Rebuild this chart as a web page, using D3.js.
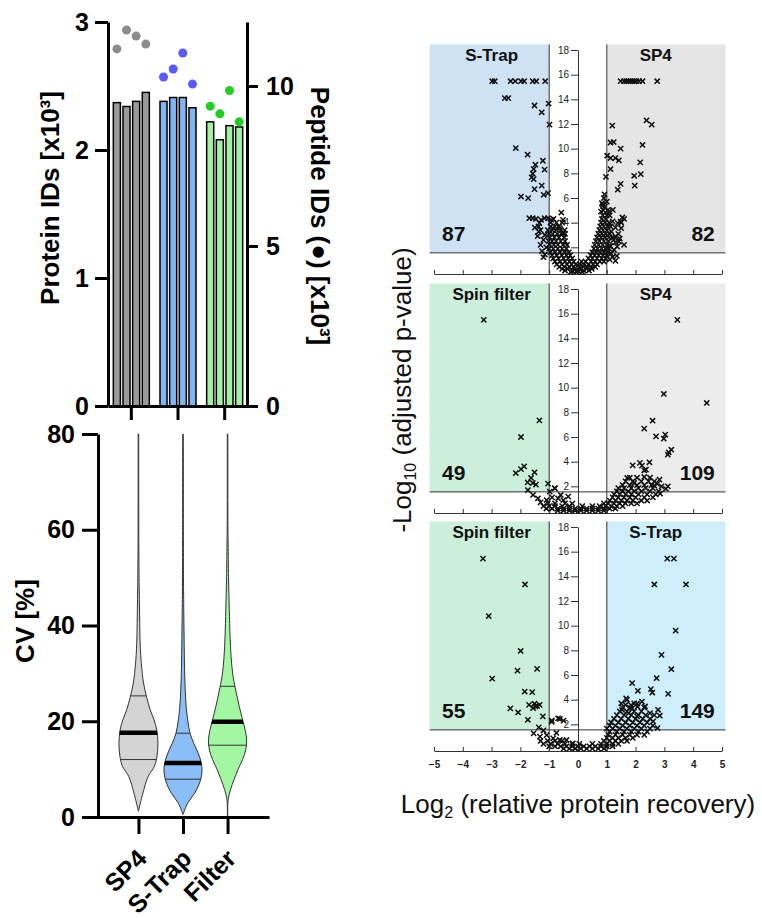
<!DOCTYPE html>
<html lang="en">
<head>
<meta charset="utf-8">
<title>Sample prep comparison</title>
<script src="https://d3js.org/d3.v7.min.js"></script>
<style>
  body { margin: 0; background: #fff; }
  svg { display: block; font-family: Arial, "Liberation Sans", sans-serif; }
</style>
</head>
<body>
<div id="chart"></div>
<script>
// ---- values ----
var groups = ["SP4", "S-Trap", "Filter"];
var proteinIDs = [[2.37, 2.34, 2.38, 2.45], [2.38, 2.41, 2.41, 2.33], [2.22, 2.08, 2.19, 2.18]];   // x10^3
var peptideIDs = [[11.16, 11.75, 11.56, 11.31], [10.28, 10.53, 11.03, 10.06], [9.37, 9.13, 9.86, 8.88]]; // x10^3
var proteinTicks = [0, 1, 2, 3];
var peptideTicks = [0, 5, 10];

// CV violins: [cv %, relative density]
var violinSP4 = [[1.2, 0], [5, 0.23], [8.5, 0.5], [10.6, 0.82], [12.7, 0.95], [15.4, 1.0], [18.2, 0.94], [20.3, 0.8],
  [22.4, 0.6], [25.2, 0.41], [28, 0.26], [32, 0.15], [36, 0.09], [42, 0.06], [49, 0.035], [57, 0.02], [80, 0.015]];
var violinSTrap = [[0.5, 0], [2.9, 0.24], [5, 0.6], [7.1, 0.85], [9.2, 0.97], [11.3, 0.94], [13.4, 0.77], [15.4, 0.55],
  [17.5, 0.36], [20.3, 0.24], [23.8, 0.15], [29.4, 0.09], [36.3, 0.06], [43, 0.04], [50, 0.025], [80, 0.015]];
var violinFilter = [[0, 0.01], [3.6, 0.03], [5.7, 0.15], [7.8, 0.33], [9.9, 0.53], [12, 0.77], [14, 0.93], [16.1, 0.98],
  [18.2, 0.9], [20.3, 0.77], [23.1, 0.6], [25.9, 0.45], [29.4, 0.28], [33.5, 0.18], [37.7, 0.13], [43.3, 0.09],
  [50.2, 0.05], [57, 0.03], [60, 0.02], [80, 0.015]];
var cvQ1 = [12.0, 7.9, 15.0];
var cvMedian = [17.6, 11.3, 19.9];
var cvQ3 = [25.3, 17.5, 27.3];
var cvTicks = [0, 20, 40, 60, 80];

// volcano plots: [log2 ratio, -log10 adj. p]
var volcanoA = [
  [-2.98,15.47],[-2.89,15.47],[-2.34,15.47],[-2.18,15.47],[-1.98,15.47],[-1.87,15.47],[-1.57,15.47],[-1.45,15.47],[-1.14,15.47],
  [-2.54,14.1],[-2.42,14.1],[-1.51,13.5],[-1.26,12.95],[-1.02,13.66],[-0.99,11.95],
  [-2.16,10.05],[-1.75,9.51],[-1.22,9.02],[-1.48,8.7],[-1.54,8.35],[-1.16,8.3],[-1.57,7.97],[-1.61,7.67],[-1.54,7.53],
  [-1.26,7.0],[-1.51,6.72],[-1.98,6.12],[-1.73,5.99],[-1.19,6.26],[-1.04,6.4],
  [-0.58,4.82],[-1.69,4.36],[-1.57,4.36],[-1.46,4.3],[-1.28,4.23],[-1.34,3.96],[-1.37,3.69],[-1.36,3.28],[-1.16,4.36],
  [-1.04,4.36],[-0.93,4.23],[-0.52,4.23],[-0.63,3.55],[-0.52,3.14],[-0.46,3.4],[-0.87,3.55],
  [1.48,15.47],[1.6,15.47],[1.68,15.47],[1.75,15.47],[1.82,15.47],[1.89,15.47],[1.95,15.47],[2.02,15.47],[2.12,15.47],
  [2.24,15.47],[2.75,15.47],[2.38,12.3],[2.56,11.95],[1.19,11.87],[2.24,10.3],[1.13,10.5],[1.24,10.54],[1.48,10.0],
  [1.01,9.43],[1.13,9.24],[1.3,9.24],[1.42,9.05],[2.16,8.89],[1.13,8.35],[1.95,7.8],[2.18,7.94],[0.97,7.72],[1.97,7.0],
  [1.48,7.15],[1.38,6.67],[0.92,6.29],[0.83,5.58],[0.87,5.37],[1.21,5.04],[1.07,4.9],[0.8,4.9],[1.54,4.42],[1.6,4.3],
  [1.48,4.09],[1.38,3.96],[1.5,3.55],[1.13,3.69],[1.24,2.6],[1.36,2.06],[1.13,2.1],[1.3,2.87],[1.42,2.47],
  [-1.15,1.4],[-1.25,1.7],[-1.1,2.0],[-1.3,2.2],[-1.2,2.6],[-1.4,2.9],[-1.15,3.0],[-1.3,3.4],[-1.5,3.6],[-1.2,1.2],
  [1.15,1.5],[1.25,1.8],[1.1,2.1],[1.3,2.4],[1.2,2.8],[1.4,3.1],[1.15,3.3],[1.3,3.6],[1.5,4.0],[1.2,4.1],
  [1.1,4.6],[1.35,1.3],[1.6,2.2],[1.45,2.7],[1.2,1.2],[1.1,1.0],[1.3,0.9],[0.9,6.0],[1.0,5.7],[0.85,5.5]
];
// dense part of each volcano, row by row: [-log10 p, [log2 ratios]]
var cloudA = [
  [0.0, [-0.25, -0.05, 0.15]],
  [0.12, [-0.45, -0.2, 0, 0.2, 0.38]],
  [0.25, [-0.55, -0.35, -0.12, 0.1, 0.3, 0.48]],
  [0.42, [-0.65, -0.48, -0.3, -0.15, 0.05, 0.18, 0.32, 0.47, 0.6]],
  [0.62, [-0.74, -0.56, -0.38, -0.22, -0.08, 0.06, 0.2, 0.36, 0.52, 0.66]],
  [0.85, [-0.8, -0.62, -0.45, -0.3, -0.15, 0.12, 0.26, 0.45, 0.6, 0.76, 0.9]],
  [1.1, [-0.86, -0.68, -0.5, -0.34, -0.2, 0.36, 0.5, 0.66, 0.82, 0.96]],
  [1.35, [-0.9, -0.74, -0.56, -0.4, -0.27, 0.44, 0.58, 0.72, 0.87, 1.0]],
  [1.6, [-0.96, -0.8, -0.62, -0.46, -0.32, 0.5, 0.63, 0.76, 0.9, 1.02]],
  [1.9, [-1.0, -0.86, -0.7, -0.55, -0.4, 0.55, 0.68, 0.82, 0.95, 1.08]],
  [2.2, [-0.98, -0.84, -0.7, -0.52, -0.38, 0.58, 0.72, 0.86, 1.0]],
  [2.5, [-1.02, -0.9, -0.76, -0.6, -0.45, 0.62, 0.75, 0.9, 1.06]],
  [2.8, [-0.98, -0.82, -0.66, -0.48, 0.66, 0.8, 0.93, 1.08]],
  [3.1, [-1.0, -0.88, -0.72, -0.58, -0.45, 0.7, 0.83, 0.96, 1.1]],
  [3.4, [-1.05, -0.9, -0.75, -0.6, 0.74, 0.87, 1.0]],
  [3.7, [-0.95, -0.8, -0.66, 0.77, 0.9, 1.03]],
  [4.0, [-0.95, -0.75, -0.55, 0.8, 0.93, 1.08]],
  [4.3, [-0.85, 0.83, 0.97]],
  [4.6, [0.86, 1.0]],
  [5.0, [0.88, 1.02]],
  [5.3, [0.93]]
];
var volcanoB = [
  [-3.27,15.5],[-1.98,6.0],[-1.34,7.35],[-2.16,3.08],[-1.98,3.4],[-1.87,3.62],[-1.51,3.14],[-1.63,2.68],[-1.75,2.32],
  [-1.57,2.27],[-1.46,2.14],[-1.04,2.22],[-0.81,1.86],
  [3.45,15.5],[2.98,9.49],[4.47,8.76],[2.59,7.32],[2.3,6.68],[2.71,6.05],[3.03,6.19],[2.98,5.86],[3.24,4.97],[3.15,4.76],
  [3.12,4.57],[2.22,3.68],[2.48,3.95],[2.36,3.35],[2.3,2.76],[1.71,2.68],[1.95,2.27],[2.83,2.54],[3.12,2.0],[2.65,2.05],
  [1.9,3.7],[2.15,3.9],[2.3,3.3],[2.9,2.0],[3.05,1.8],[2.85,1.4],[2.75,2.2],
  [-1.74,1.7],[-1.56,1.3],[-1.39,1.03],[-1.09,0.89],[-0.98,1.57],[-0.8,1.84],[-0.69,1.03],[-0.34,1.16],[-0.51,0.89],
  [-1.3,0.7],[-0.2,0.6],[-0.9,1.1],[-0.6,1.3]
];
var cloudB = [
  [0.03, [-0.7, -0.5, -0.3, -0.1, 0.1, 0.3, 0.5, 0.7, 0.9]],
  [0.2, [-1.1, -0.9, -0.7, -0.5, -0.3, -0.1, 0.1, 0.3, 0.5, 0.7, 0.9, 1.1, 1.3]],
  [0.4, [-1.2, -1.0, -0.8, -0.55, -0.3, 0.15, 0.5, 0.75, 0.95, 1.15, 1.35, 1.55]],
  [0.62, [-1.05, -0.8, -0.45, 0.9, 1.05, 1.25, 1.45, 1.65, 1.85, 2.05]],
  [0.85, [1.1, 1.3, 1.5, 1.7, 1.9, 2.2, 2.4]],
  [1.1, [1.2, 1.4, 1.6, 1.8, 2.0, 2.3, 2.6]],
  [1.35, [1.25, 1.45, 1.65, 1.85, 2.1, 2.4, 2.7]],
  [1.6, [1.35, 1.55, 1.75, 1.95, 2.2, 2.5, 2.8]],
  [1.85, [1.4, 1.6, 1.85, 2.1, 2.35, 2.6]],
  [2.1, [1.55, 1.8, 2.05, 2.3, 2.55]],
  [2.4, [1.65, 1.9, 2.2, 2.45, 2.65]],
  [2.7, [1.8, 2.05, 2.5]]
];
var volcanoC = [
  [-3.3,15.44],[-1.84,13.34],[-3.1,10.78],[-1.99,7.95],[-2.1,6.36],[-1.42,6.5],[-2.98,5.71],[-1.85,4.66],[-1.59,4.61],
  [-1.7,3.58],[-1.51,3.67],[-1.42,3.5],[-1.33,3.58],[-1.56,3.32],[-1.48,3.45],[-2.35,3.29],[-2.08,2.96],[-1.74,2.37],
  [-1.22,2.64],[-1.36,1.75],[-0.91,2.32],[-0.63,2.45],
  [3.1,15.44],[3.33,15.44],[2.65,13.34],[3.75,13.34],[3.39,9.6],[2.9,7.63],[3.24,6.47],[2.73,5.74],[1.88,5.34],[2.08,4.72],
  [2.53,4.85],[2.58,4.58],[3.13,4.47],[1.7,3.99],[1.65,3.58],[2.05,3.67],[2.22,3.85],[2.33,3.45],[1.53,3.18],[1.76,2.91],
  [1.88,3.3],[2.05,2.64],[2.5,2.91],[2.78,3.18],[2.84,2.7],[2.61,2.24],[2.76,1.7],[1.67,4.1],[1.84,3.56],[2.07,3.43],
  [-1.54,1.27],[-1.32,1.0],[-1.09,1.13],[-0.86,0.86],[-0.63,0.73],[-0.4,0.73],[-0.18,0.46],[-0.91,2.2],[-0.69,2.48],
  [-1.2,1.5],[-0.75,1.3],[-0.5,2.3]
];
var cloudC = [
  [0.03, [-0.5, -0.3, -0.1, 0.1, 0.3, 0.5, 0.7, 0.9]],
  [0.22, [-1.0, -0.8, -0.6, -0.4, -0.2, 0, 0.2, 0.4, 0.6, 0.8, 1.0, 1.2]],
  [0.42, [-1.2, -0.95, -0.7, -0.45, -0.2, 0.05, 0.5, 0.8, 1.0, 1.2, 1.4]],
  [0.65, [-1.3, -1.05, -0.8, -0.55, 0.9, 1.1, 1.3, 1.5, 1.7]],
  [0.9, [1.0, 1.2, 1.4, 1.65, 1.9]],
  [1.15, [1.05, 1.3, 1.55, 1.8, 2.05, 2.3]],
  [1.4, [1.1, 1.35, 1.6, 1.85, 2.1, 2.4]],
  [1.65, [1.0, 1.2, 1.45, 1.7, 1.95, 2.2, 2.5]],
  [1.9, [1.1, 1.3, 1.55, 1.8, 2.05, 2.3, 2.6]],
  [2.15, [1.15, 1.4, 1.65, 1.9, 2.15, 2.4]],
  [2.45, [1.25, 1.5, 1.75, 2.0, 2.25, 2.5]],
  [2.75, [1.35, 1.6, 1.85, 2.1, 2.35, 2.65]],
  [3.05, [1.45, 1.7, 1.95, 2.2]],
  [3.35, [1.55, 1.8, 2.3]],
  [3.7, [1.5, 1.95]]
];
var volcanoPoints = [volcanoA, volcanoB, volcanoC];
var volcanoClouds = [cloudA, cloudB, cloudC];
var volcanoLabels = [["S-Trap", "SP4"], ["Spin filter", "SP4"], ["Spin filter", "S-Trap"]];
var volcanoCounts = [[87, 82], [49, 109], [55, 149]];
var volcanoXTicks = [-5, -4, -3, -2, -1, 0, 1, 2, 3, 4, 5];
var volcanoYTicks = [0, 2, 4, 6, 8, 10, 12, 14, 16, 18];
var foldCut = 1, pCut = 1.55;

// ---- styles ----
var barColors = ["#9a9a9a", "#82b5f3", "#a2f2a2"];
var dotColors = ["#8c8c8c", "#5a5aff", "#22cc22"];
var violinColors = ["#d4d4d4", "#8bbdf6", "#a3f7a3"];
var shadeColors = [["#cfe2f3", "#e5e5e5"], ["#ccefdc", "#ececec"], ["#ccefdc", "#cdeefa"]];

var W = 762, H = 918;
var svg = d3.select("#chart").append("svg").attr("width", W).attr("height", H);
svg.append("rect").attr("width", W).attr("height", H).attr("fill", "#fff");

function styleAxis(sel, lw, fs, bold) {
  sel.attr("font-size", null).attr("font-family", null);
  sel.selectAll(".domain, .tick line").attr("stroke", "#000").attr("stroke-width", lw);
  sel.selectAll("text").attr("font-size", fs).attr("font-weight", bold ? "bold" : "normal").attr("fill", "#000");
}

// ===== protein / peptide IDs =====
var yProt = d3.scaleLinear().domain([0, 3]).range([406, 22]);
var yPep = d3.scaleLinear().domain([0, 12]).range([406, 22]);
var xGrp = d3.scaleBand().domain(groups).range([108, 248]);
var xRep = d3.scaleBand().domain(d3.range(4)).range([-18, 18]).paddingInner(0.27).paddingOuter(0);

var gIDs = svg.append("g");
groups.forEach(function (grp, gi) {
  var cx = xGrp(grp) + xGrp.bandwidth() / 2;
  gIDs.append("g").selectAll("rect").data(proteinIDs[gi]).enter().append("rect")
    .attr("x", function (d, i) { return cx + xRep(i); })
    .attr("y", function (d) { return yProt(d); })
    .attr("width", xRep.bandwidth())
    .attr("height", function (d) { return yProt(0) - yProt(d); })
    .attr("fill", barColors[gi]).attr("stroke", "#000").attr("stroke-width", 1.5);
  gIDs.append("g").selectAll("circle").data(peptideIDs[gi]).enter().append("circle")
    .attr("cx", function (d, i) { return cx + xRep(i) + xRep.bandwidth() / 2; })
    .attr("cy", function (d) { return yPep(d); })
    .attr("r", 4.5).attr("fill", dotColors[gi]);
});

gIDs.append("g").attr("transform", "translate(108,0)")
  .call(d3.axisLeft(yProt).tickValues(proteinTicks).tickFormat(d3.format("d"))
    .tickSize(13).tickSizeOuter(0).tickPadding(6))
  .call(styleAxis, 3, 25, true);
gIDs.append("g").attr("transform", "translate(247,0)")
  .call(d3.axisRight(yPep).tickValues(peptideTicks).tickFormat(d3.format("d"))
    .tickSize(11).tickSizeOuter(0).tickPadding(8))
  .call(styleAxis, 3, 25, true);
gIDs.append("g").attr("transform", "translate(0,406)")
  .call(d3.axisBottom(xGrp).tickSize(14).tickSizeOuter(0).tickFormat(""))
  .call(styleAxis, 3, 25, true);

gIDs.append("text").attr("transform", "translate(59,198) rotate(-90)")
  .attr("text-anchor", "middle").attr("font-size", 26).attr("font-weight", "bold")
  .text("Protein IDs [x10\u00b3]");
gIDs.append("text").attr("transform", "translate(311,216) rotate(90)")
  .attr("text-anchor", "middle").attr("font-size", 26).attr("font-weight", "bold")
  .text("Peptide IDs (\u25cf) [x10\u00b3]");

// ===== CV violins =====
var yCV = d3.scaleLinear().domain([0, 80]).range([817, 434]);
var xCV = d3.scalePoint().domain(groups).range([97, 269]).padding(0.93);
var wCV = d3.scaleLinear().domain([0, 1]).range([0, 19.5]);
var violins = [violinSP4, violinSTrap, violinFilter];

var gCV = svg.append("g");
groups.forEach(function (grp, gi) {
  var cx = xCV(grp);
  var area = d3.area()
    .y(function (d) { return yCV(d[0]); })
    .x0(function (d) { return cx - wCV(d[1]); })
    .x1(function (d) { return cx + wCV(d[1]); })
    .curve(d3.curveCatmullRom);
  var dPath = area(violins[gi]);
  gCV.append("clipPath").attr("id", "vclip" + gi).append("path").attr("d", dPath);
  gCV.append("path").attr("d", dPath).attr("fill", violinColors[gi])
    .attr("stroke", "#333").attr("stroke-width", 1);
  var stats = [[cvQ1[gi], 1], [cvQ3[gi], 1], [cvMedian[gi], 4.5]];
  gCV.append("g").attr("clip-path", "url(#vclip" + gi + ")")
    .selectAll("line").data(stats).enter().append("line")
    .attr("x1", cx - 25).attr("x2", cx + 25)
    .attr("y1", function (d) { return yCV(d[0]); })
    .attr("y2", function (d) { return yCV(d[0]); })
    .attr("stroke", function (d) { return d[1] > 2 ? "#000" : "#333"; })
    .attr("stroke-width", function (d) { return d[1]; });
});

gCV.append("g").attr("transform", "translate(98,0)")
  .call(d3.axisLeft(yCV).tickValues(cvTicks).tickSize(16).tickSizeOuter(0).tickPadding(7))
  .call(styleAxis, 3, 25, true);
gCV.append("g").attr("transform", "translate(0,817)")
  .call(d3.axisBottom(xCV).tickSize(17).tickSizeOuter(0).tickFormat(""))
  .call(styleAxis, 3, 25, true);
gCV.selectAll(".xlab").data(groups).enter().append("text")
  .attr("transform", function (d) { return "translate(" + (xCV(d) + 10) + ",860) rotate(-45)"; })
  .attr("text-anchor", "end").attr("font-size", 25).attr("font-weight", "bold")
  .text(function (d) { return d; });
gCV.append("text").attr("transform", "translate(34,621) rotate(-90)")
  .attr("text-anchor", "middle").attr("font-size", 26).attr("font-weight", "bold")
  .text("CV [%]");

// ===== volcano plots =====
var xVol = d3.scaleLinear().domain([-5, 5]).range([434, 722]);
var panelTop = [50, 289, 527];
var shadeFrom = -5.15, shadeTo = 5.12, shadeTop = 18.45;
var cross = "M-2.6,-2.6L2.6,2.6M-2.6,2.6L2.6,-2.6";

volcanoPoints.forEach(function (pts, i) {
  var y = d3.scaleLinear().domain([0, 18]).range([panelTop[i] + 222, panelTop[i]]);
  var g = svg.append("g");
  g.append("rect").attr("x", xVol(shadeFrom)).attr("y", y(shadeTop))
    .attr("width", xVol(-foldCut) - xVol(shadeFrom)).attr("height", y(pCut) - y(shadeTop))
    .attr("fill", shadeColors[i][0]);
  g.append("rect").attr("x", xVol(foldCut)).attr("y", y(shadeTop))
    .attr("width", xVol(shadeTo) - xVol(foldCut)).attr("height", y(pCut) - y(shadeTop))
    .attr("fill", shadeColors[i][1]);

  g.append("line").attr("x1", xVol(shadeFrom)).attr("x2", xVol(shadeTo))
    .attr("y1", y(pCut)).attr("y2", y(pCut)).attr("stroke", "#333").attr("stroke-width", 1);
  [-foldCut, foldCut].forEach(function (fc) {
    g.append("line").attr("x1", xVol(fc)).attr("x2", xVol(fc))
      .attr("y1", y(shadeTop)).attr("y2", y(0) + 2).attr("stroke", "#333").attr("stroke-width", 1);
  });

  var ax = g.append("g").attr("transform", "translate(" + xVol(0) + ",0)")
    .call(d3.axisLeft(y).tickValues(volcanoYTicks).tickSize(7).tickSizeOuter(0).tickPadding(2)
      .tickFormat(function (d) { return d === 0 ? "" : d; }));
  styleAxis(ax, 1, 10, false);
  ax.selectAll(".domain, .tick line").attr("stroke", "#333");
  ax.selectAll("text").attr("fill", "#222");

  var bx = g.append("g").attr("transform", "translate(0," + (y(0) + 2) + ")")
    .call(d3.axisBottom(xVol).tickValues(volcanoXTicks).tickSizeInner(-4).tickSizeOuter(0).tickPadding(10)
      .tickFormat(i === 2 ? d3.format("d") : ""));
  styleAxis(bx, 1, 10, true);
  bx.selectAll(".domain, .tick line").attr("stroke", "#333");
  bx.selectAll("text").attr("fill", "#222");

  var cloud = [];
  volcanoClouds[i].forEach(function (row) {
    row[1].forEach(function (xv) { cloud.push([xv, row[0]]); });
  });
  g.append("g").selectAll("path").data(pts.concat(cloud)).enter().append("path")
    .attr("transform", function (d) { return "translate(" + xVol(d[0]) + "," + y(d[1]) + ")"; })
    .attr("d", cross).attr("stroke", "#111").attr("stroke-width", 1.5).attr("fill", "none");

  g.append("text").attr("x", xVol(-3.0)).attr("y", panelTop[i] + 11)
    .attr("text-anchor", "middle").attr("font-size", 17).attr("font-weight", "bold").attr("fill", "#111")
    .text(volcanoLabels[i][0]);
  g.append("text").attr("x", xVol(2.7)).attr("y", panelTop[i] + 11)
    .attr("text-anchor", "middle").attr("font-size", 17).attr("font-weight", "bold").attr("fill", "#111")
    .text(volcanoLabels[i][1]);
  g.append("text").attr("x", xVol(-4.72)).attr("y", y(2.55))
    .attr("text-anchor", "start").attr("font-size", 21).attr("font-weight", "bold").attr("fill", "#111")
    .text(volcanoCounts[i][0]);
  g.append("text").attr("x", xVol(4.75)).attr("y", y(2.55))
    .attr("text-anchor", "end").attr("font-size", 21).attr("font-weight", "bold").attr("fill", "#111")
    .text(volcanoCounts[i][1]);
});

var yl = svg.append("text").attr("transform", "translate(411,390) rotate(-90)")
  .attr("text-anchor", "middle").attr("font-size", 26).attr("fill", "#111");
yl.append("tspan").text("-Log");
yl.append("tspan").attr("font-size", 16).attr("dy", 5).text("10");
yl.append("tspan").attr("dy", -5).text(" (adjusted p-value)");

var xl = svg.append("text").attr("transform", "translate(578,813)")
  .attr("text-anchor", "middle").attr("font-size", 26).attr("fill", "#111");
xl.append("tspan").text("Log");
xl.append("tspan").attr("font-size", 16).attr("dy", 5).text("2");
xl.append("tspan").attr("dy", -5).text(" (relative protein recovery)");
</script>
</body>
</html>
